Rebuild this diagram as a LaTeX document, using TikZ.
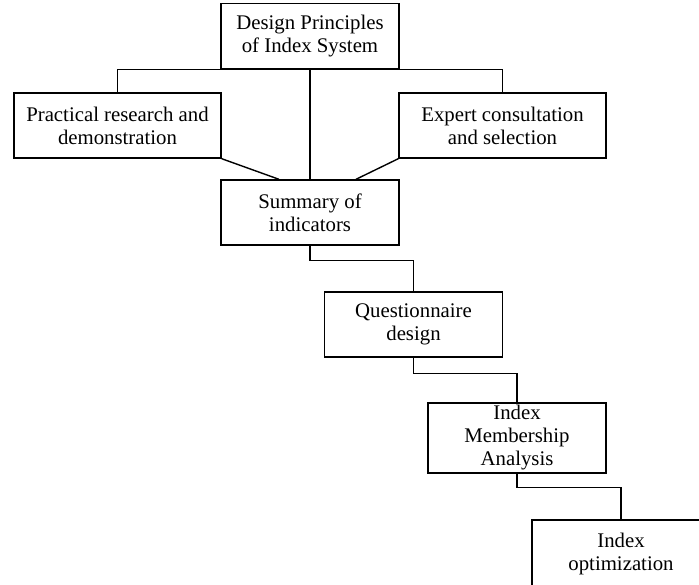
\documentclass[tikz,border=0pt]{standalone}
\usepackage{fontspec}
\setmainfont{Liberation Serif}
\usepackage{tikz}
\usetikzlibrary{positioning}

\begin{document}
\begin{tikzpicture}[x=1pt, y=-1pt, line width=1.4pt,
	stage/.style={draw, align=center, inner sep=2pt, minimum width=178pt, minimum height=65pt,
		font=\fontsize{20.8}{23}\selectfont}]
\useasboundingbox (0,0) rectangle (699,584);
\clip (0,0) rectangle (699,584);

\node[stage] (design) at (310, 36) {Design Principles\\of Index System};
\node[stage, minimum width=207pt] (practical) at (117.5, 125.5) {Practical research and\\demonstration};
\node[stage, minimum width=207pt] (expert) at (502.5, 125.5) {Expert consultation\\and selection};
\node[stage] (summary) at (310, 212.5) {Summary of\\indicators};
\node[stage] (quest) at (413.5, 324.5) {Questionnaire\\design};
\node[stage, minimum height=70pt] (member) at (517, 438) {Index\\Membership\\Analysis};
\node[stage, minimum height=67pt] (optim) at (621, 553.5) {Index\\optimization};

\draw (practical.north) |- (design.south);
\draw (expert.north) |- (design.south);
\draw (design.south) -- (summary.north);
\draw (practical.south east) -- ([xshift=-31pt]summary.north);
\draw (expert.south west) -- ([xshift=46pt]summary.north);

\draw (summary.south) -- ++(0,15) -| (quest.north);
\draw (quest.south) -- ++(0,16) -| (member.north);
\draw (member.south) -- ++(0,14) -| (optim.north);
\end{tikzpicture}
\end{document}
